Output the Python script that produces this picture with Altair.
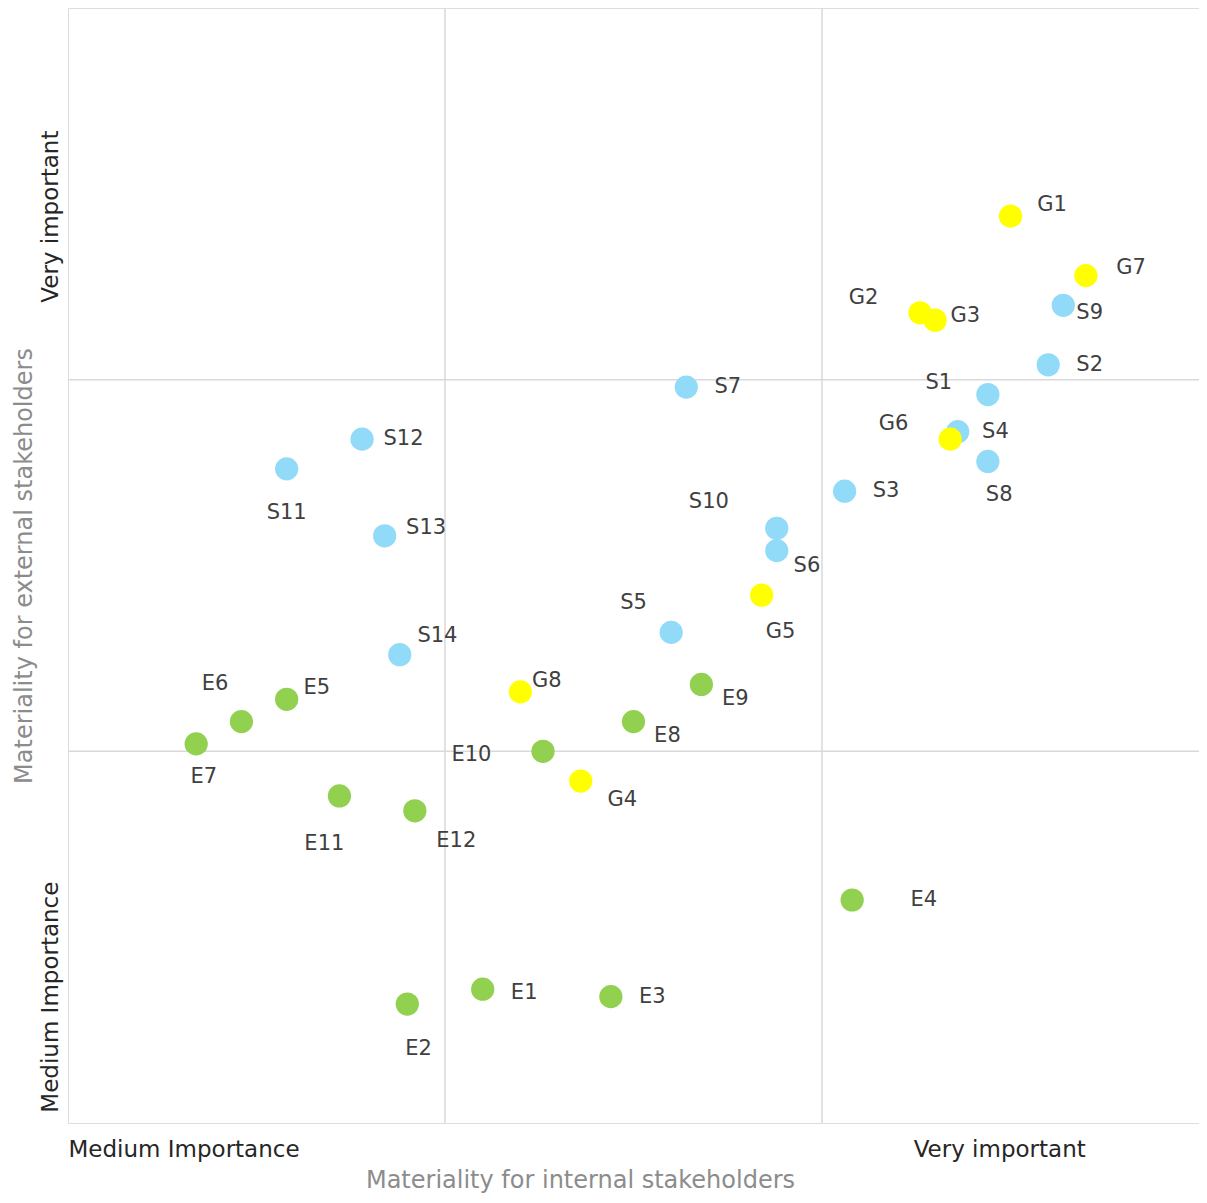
import altair as alt
import pandas as pd

# ---- data ----
NAMES = ["E1", "E2", "E3", "E4", "E5", "E6", "E7", "E8", "E9", "E10", "E11", "E12",
         "S1", "S2", "S3", "S4", "S5", "S6", "S7", "S8", "S9", "S10", "S11", "S12", "S13", "S14",
         "G1", "G2", "G3", "G4", "G5", "G6", "G7", "G8"]
GROUPS = ["E"] * 12 + ["S"] * 14 + ["G"] * 8
INTERNAL = [1.10, 0.90, 1.44, 2.08, 0.58, 0.46, 0.34, 1.50, 1.68, 1.26, 0.72, 0.92,
            2.44, 2.60, 2.06, 2.36, 1.60, 1.88, 1.64, 2.44, 2.64, 1.88, 0.58, 0.78, 0.84, 0.88,
            2.50, 2.26, 2.30, 1.36, 1.84, 2.34, 2.70, 1.20]
EXTERNAL = [0.36, 0.32, 0.34, 0.60, 1.14, 1.08, 1.02, 1.08, 1.18, 1.00, 0.88, 0.84,
            1.96, 2.04, 1.70, 1.86, 1.32, 1.54, 1.98, 1.78, 2.20, 1.60, 1.76, 1.84, 1.58, 1.26,
            2.44, 2.18, 2.16, 0.92, 1.42, 1.84, 2.28, 1.16]
# label anchor points (data units)
LABEL_X = [1.21, 0.93, 1.55, 2.27, 0.66, 0.39, 0.36, 1.59, 1.77, 1.07, 0.68, 1.03,
           2.31, 2.71, 2.17, 2.46, 1.50, 1.96, 1.75, 2.47, 2.71, 1.70, 0.58, 0.89, 0.95, 0.98,
           2.61, 2.11, 2.38, 1.47, 1.89, 2.19, 2.82, 1.27]
LABEL_Y = [0.35, 0.20, 0.34, 0.60, 1.17, 1.18, 0.93, 1.04, 1.14, 0.99, 0.75, 0.76,
           1.99, 2.04, 1.70, 1.86, 1.40, 1.50, 1.98, 1.69, 2.18, 1.67, 1.64, 1.84, 1.60, 1.31,
           2.47, 2.22, 2.17, 0.87, 1.32, 1.88, 2.30, 1.19]

GROUP_ORDER = ["E", "S", "G"]
GROUP_COLORS = ["#92D050", "#92DBF8", "#FFFF00"]

GRID = [1, 2]
X_TICKS = [0, 2.47]
X_TICK_TEXT = ["Medium Importance", "Very important"]
Y_TICKS = [0.34, 2.44]
Y_TICK_TEXT = ["Medium Importance", "Very important"]

FONT = "DejaVu Sans"

df = pd.DataFrame({
    "name": NAMES, "group": GROUPS, "internal": INTERNAL, "external": EXTERNAL,
    "lx": LABEL_X, "ly": LABEL_Y,
    "order": [GROUP_ORDER.index(g) for g in GROUPS],
})
grid_df = pd.DataFrame({"g": GRID})


def label_expr(vals, texts):
    parts = " : ".join(f"datum.value == {v} ? '{t}'" for v, t in zip(vals, texts))
    return parts + " : ''"


x_scale = alt.Scale(domain=[0, 3], nice=False, zero=False)
y_scale = alt.Scale(domain=[0, 3], nice=False, zero=False)

x_axis = alt.Axis(values=X_TICKS, labelExpr=label_expr(X_TICKS, X_TICK_TEXT),
                  grid=False, ticks=False, domain=False, labelFlush=True, labelLimit=0,
                  labelFontSize=23, labelColor="#262626", labelFont=FONT, labelPadding=15,
                  title="Materiality for internal stakeholders", titleFont=FONT,
                  titleFontSize=24, titleFontWeight="normal", titleColor="#8c8c8c",
                  titleX=512, titlePadding=7)
y_axis = alt.Axis(values=Y_TICKS, labelExpr=label_expr(Y_TICKS, Y_TICK_TEXT),
                  grid=False, ticks=False, domain=False, labelFlush=False, labelLimit=0,
                  labelAngle=-90, labelAlign="center", labelBaseline="bottom",
                  labelFontSize=23, labelColor="#262626", labelFont=FONT, labelPadding=6,
                  title="Materiality for external stakeholders", titleFont=FONT,
                  titleFontSize=24, titleFontWeight="normal", titleColor="#8c8c8c",
                  titlePadding=3)

gx = alt.Chart(grid_df).mark_rule(color="#d9d9d9", strokeWidth=1.5).encode(
    x=alt.X("g:Q", scale=x_scale, axis=x_axis))
gy = alt.Chart(grid_df).mark_rule(color="#d9d9d9", strokeWidth=1.5).encode(
    y=alt.Y("g:Q", scale=y_scale, axis=y_axis))

points = alt.Chart(df).mark_circle(size=540, opacity=1).encode(
    x=alt.X("internal:Q", scale=x_scale, axis=x_axis),
    y=alt.Y("external:Q", scale=y_scale, axis=y_axis),
    color=alt.Color("group:N", scale=alt.Scale(domain=GROUP_ORDER, range=GROUP_COLORS), legend=None),
    order=alt.Order("order:Q"),
)

labels = alt.Chart(df).mark_text(font=FONT, fontSize=21, color="#404040",
                                 align="center", baseline="middle").encode(
    x=alt.X("lx:Q", scale=x_scale, axis=x_axis),
    y=alt.Y("ly:Q", scale=y_scale, axis=y_axis),
    text="name:N",
)

chart = alt.layer(gx, gy, points, labels).properties(
    width=1131, height=1115,
    autosize=alt.AutoSizeParams(type="none"),
    padding={"left": 60, "top": 0, "right": 0, "bottom": 71},
).configure_view(stroke="#d9d9d9", strokeWidth=1.5).configure(background="white")

chart.save("out.html", embed_options={"renderer": "svg", "actions": False})
